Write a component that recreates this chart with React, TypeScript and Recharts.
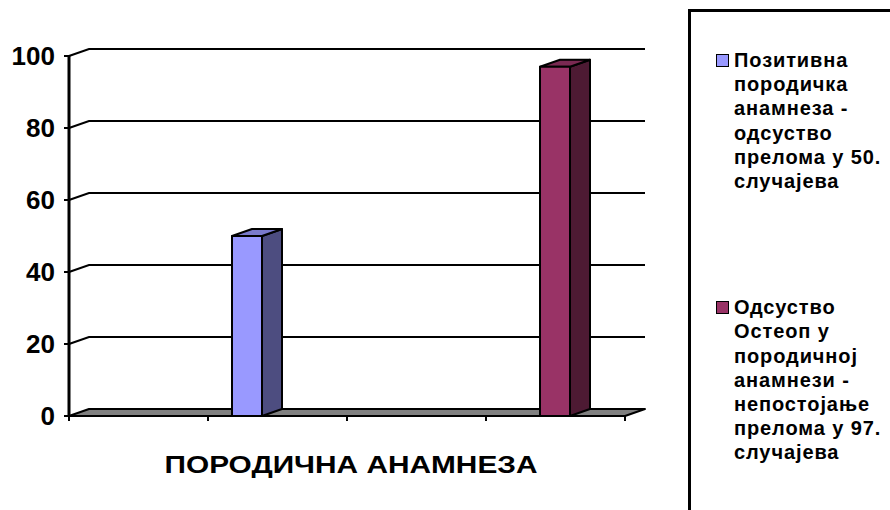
import { BarChart, Bar, XAxis, YAxis, CartesianGrid } from 'recharts';

const FONT = '"Liberation Sans", Arial, sans-serif';

// category, series and axis values
const categories = ['ПОРОДИЧНА  АНАМНЕЗА'];
const positiveHistory = [50];
const absentHistory = [97];
const seriesNames = [
  'Позитивна\nпородичка\nанамнеза -\nодсуство\nпрелома у 50.\nслучајева',
  'Одсуство\nОстеоп у\nпородичној\nанамнези -\nнепостојање\nпрелома у 97.\nслучајева',
];
const yTicks = [0, 20, 40, 60, 80, 100];
const floorTicks = [0, 1, 2, 3, 4];

// face colours for the 3d columns: front, top, side
const FACES = [
  { front: '#9999FF', top: '#7A7ACC', side: '#4D4D80' },
  { front: '#993366', top: '#7A2952', side: '#4D1A33' },
];

// depth offset of the back wall
const DX = 20;
const DY = -7;
const TICK = 5;

const data = categories.map((name, i) => ({
  name,
  positive: positiveHistory[i],
  absent: absentHistory[i],
}));

function Column(props: any) {
  const { x, y, width, height, faces } = props;
  if (height == null || height <= 0) return null;
  const r = x + width;
  const b = y + height;
  return (
    <g stroke="#000" strokeWidth={2} strokeLinejoin="round">
      <polygon points={`${r},${y} ${r + DX},${y + DY} ${r + DX},${b + DY} ${r},${b}`} fill={faces.side} />
      <polygon points={`${x},${y} ${x + DX},${y + DY} ${r + DX},${y + DY} ${r},${y}`} fill={faces.top} />
      <rect x={x} y={y} width={width} height={height} fill={faces.front} />
    </g>
  );
}

// back-wall gridlines; the zero line becomes the grey floor
function WallLine(props: any) {
  const { x1, x2, y1, y, height } = props;
  if (Math.abs(y1 - (y + height)) < 0.5) {
    return (
      <polygon
        points={`${x1},${y1} ${x2},${y1} ${x2 + DX},${y1 + DY} ${x1 + DX},${y1 + DY}`}
        fill="#808080"
        stroke="#000"
        strokeWidth={2}
        strokeLinejoin="round"
      />
    );
  }
  return (
    <polyline
      points={`${x1},${y1} ${x1 + DX},${y1 + DY} ${x2 + DX},${y1 + DY}`}
      fill="none"
      stroke="#000"
      strokeWidth={2}
    />
  );
}

// small ticks under the front edge of the floor
function FloorTick(props: any) {
  const { x1, y2 } = props;
  return <line x1={x1} y1={y2} x2={x1} y2={y2 + TICK} stroke="#000" strokeWidth={2} />;
}

const floorCoords = ({ offset }: any) => {
  const last = floorTicks[floorTicks.length - 1];
  return floorTicks.map((t) => offset.left + (t / last) * offset.width);
};

function CategoryLabel(props: any) {
  const { viewBox } = props;
  const cx = viewBox.x + viewBox.width / 2 + 4;
  return (
    <text
      x={cx}
      y={viewBox.y + 57}
      textAnchor="middle"
      textLength={373}
      lengthAdjust="spacingAndGlyphs"
      fontFamily={FONT}
      fontWeight="bold"
      fontSize={24}
      fill="#000"
    >
      {categories[0]}
    </text>
  );
}

// value tick: bold number plus the short tick line in front of the axis
function ValueTick(props: any) {
  const { x, y, payload } = props;
  return (
    <g>
      <line x1={x + 9} y1={y} x2={x + 9 + TICK} y2={y} stroke="#000" strokeWidth={2} />
      <text x={x} y={y} dy="0.355em" textAnchor="end" fontFamily={FONT} fontWeight="bold" fontSize={26} fill="#000">
        {payload.value}
      </text>
    </g>
  );
}

const NoTick = () => <g />;

function LegendBox() {
  return (
    <div
      style={{
        position: 'absolute',
        left: 688,
        top: 9,
        width: 230,
        height: 520,
        border: '3px solid #000',
        boxSizing: 'border-box',
        background: '#fff',
        paddingTop: 36,
        fontFamily: FONT,
        fontWeight: 'bold',
        fontSize: 20,
        lineHeight: '24.2px',
        letterSpacing: 0.9,
        color: '#000',
      }}
    >
      {seriesNames.map((name, i) => (
        <div key={i} style={{ position: 'relative', paddingLeft: 43, marginBottom: i === 0 ? 102 : 0 }}>
          <span
            style={{
              position: 'absolute',
              left: 25,
              top: 6,
              width: 11,
              height: 11,
              background: FACES[i].front,
              border: '1.5px solid #000',
            }}
          />
          <div style={{ whiteSpace: 'pre-line' }}>{name}</div>
        </div>
      ))}
    </div>
  );
}

export default function App() {
  return (
    <div style={{ position: 'absolute', left: 0, top: 0, width: 890, height: 510, overflow: 'hidden', background: '#fff' }}>
      <BarChart
        width={890}
        height={510}
        data={data}
        margin={{ top: 56, right: 265, bottom: 34, left: 0 }}
        barSize={30}
        barGap={278}
      >
        <CartesianGrid
          horizontal={WallLine}
          vertical={FloorTick}
          verticalCoordinatesGenerator={floorCoords}
        />
        <XAxis
          dataKey="name"
          padding={{ left: 108, right: 0 }}
          axisLine={false}
          tickLine={false}
          tick={NoTick}
          height={60}
          label={<CategoryLabel />}
        />
        <YAxis
          domain={[0, 100]}
          ticks={yTicks}
          interval={0}
          width={69}
          tickSize={TICK}
          tickMargin={9}
          axisLine={{ stroke: '#000', strokeWidth: 3 }}
          tickLine={false}
          tick={<ValueTick />}
        />
        <Bar
          dataKey="positive"
          name={seriesNames[0]}
          fill={FACES[0].front}
          shape={(p: any) => <Column {...p} faces={FACES[0]} />}
          isAnimationActive={false}
        />
        <Bar
          dataKey="absent"
          name={seriesNames[1]}
          fill={FACES[1].front}
          shape={(p: any) => <Column {...p} faces={FACES[1]} />}
          isAnimationActive={false}
        />
      </BarChart>
      <LegendBox />
    </div>
  );
}
